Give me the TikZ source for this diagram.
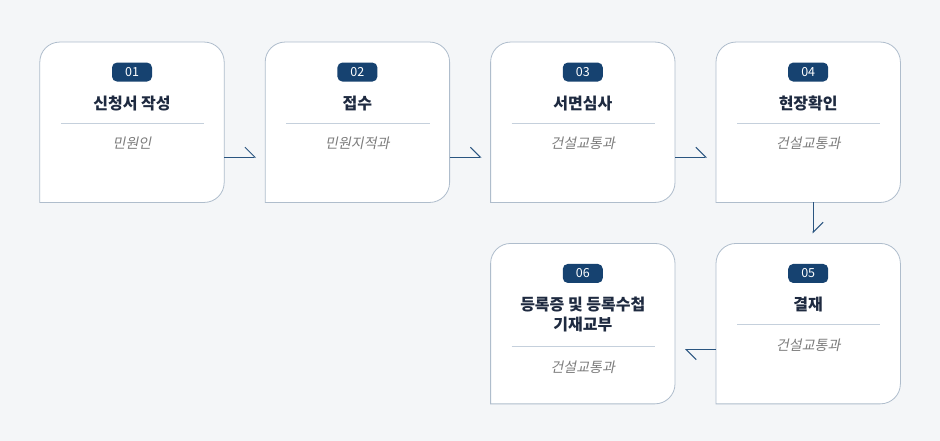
\documentclass[tikz,border=0pt]{standalone}
\usepackage{fontspec}
\usepackage{tikz}
\usetikzlibrary{arrows.meta, positioning}
\newfontfamily\kr{Noto Sans CJK KR}[AutoFakeSlant=0.2]
\definecolor{pagebg}{HTML}{F4F6F8}
\definecolor{cardedge}{HTML}{AFBDCC}
\definecolor{badgeblue}{HTML}{164270}
\definecolor{titleink}{HTML}{1E2A40}
\definecolor{ruleline}{HTML}{C5D0DC}
\definecolor{subink}{HTML}{7C7C7C}
\definecolor{flowblue}{HTML}{2A5580}

% card outline: three rounded corners, square bottom left
\newcommand{\cardframe}[1]{%
  \draw[cardline] (#1.south west) -- ([yshift=-20pt]#1.north west)
    arc[start angle=180, end angle=90, radius=20pt] -- ([xshift=-20pt]#1.north east)
    arc[start angle=90, end angle=0, radius=20pt] -- ([yshift=20pt]#1.south east)
    arc[start angle=0, end angle=-90, radius=20pt] -- cycle;}

\begin{document}
\begin{tikzpicture}[node distance=41pt,
    cardline/.style={draw=cardedge, fill=white, line width=0.8pt},
    rule/.style={draw=ruleline, line width=0.8pt},
    flow/.style={draw=flowblue, line width=1pt,
                 -{Straight Barb[harpoon, length=10pt, width=20pt]}}]
  \tikzstyle{stepcard}=[minimum width=184pt, minimum height=160pt, inner sep=0pt]
  \tikzstyle{badge}=[fill=badgeblue, text=white, rounded corners=5pt,
                     minimum width=40pt, minimum height=19pt, inner sep=0pt,
                     font=\kr\fontsize{12.5}{12.5}\selectfont]
  \tikzstyle{title}=[text=titleink, align=center, inner sep=0pt,
                     font=\kr\bfseries\fontsize{16}{20}\selectfont]
  \tikzstyle{office}=[text=subink, inner sep=0pt,
                      font=\kr\itshape\fontsize{14}{14}\selectfont]

  \fill[pagebg] (0,0) rectangle (940pt,-441pt);
  \useasboundingbox (0,0) rectangle (940pt,-441pt);

  \node[stepcard] (c1) at (132pt,-122.25pt) {};
  \node[stepcard] (c2) [right=of c1] {};
  \node[stepcard] (c3) [right=of c2] {};
  \node[stepcard] (c4) [right=of c3] {};
  \node[stepcard] (c5) [below=of c4] {};
  \node[stepcard] (c6) [left=of c5] {};

  \cardframe{c1} \cardframe{c2} \cardframe{c3}
  \cardframe{c4} \cardframe{c5} \cardframe{c6}

  % step 1
  \node[badge]  (b1) at ([yshift=-30pt]c1.north) {01};
  \node[title]  (t1) at ([yshift=-61pt]c1.north) {신청서 작성};
  \draw[rule] ([xshift=21pt,yshift=-81pt]c1.north west) -- ([xshift=-20pt,yshift=-81pt]c1.north east);
  \node[office] (s1) at ([yshift=-101.5pt]c1.north) {민원인};

  % step 2
  \node[badge]  (b2) at ([yshift=-30pt]c2.north) {02};
  \node[title]  (t2) at ([yshift=-61pt]c2.north) {접수};
  \draw[rule] ([xshift=21pt,yshift=-81pt]c2.north west) -- ([xshift=-20pt,yshift=-81pt]c2.north east);
  \node[office] (s2) at ([yshift=-101.5pt]c2.north) {민원지적과};

  % step 3
  \node[badge]  (b3) at ([yshift=-30pt]c3.north) {03};
  \node[title]  (t3) at ([yshift=-61pt]c3.north) {서면심사};
  \draw[rule] ([xshift=21pt,yshift=-81pt]c3.north west) -- ([xshift=-20pt,yshift=-81pt]c3.north east);
  \node[office] (s3) at ([yshift=-101.5pt]c3.north) {건설교통과};

  % step 4
  \node[badge]  (b4) at ([yshift=-30pt]c4.north) {04};
  \node[title]  (t4) at ([yshift=-61pt]c4.north) {현장확인};
  \draw[rule] ([xshift=21pt,yshift=-81pt]c4.north west) -- ([xshift=-20pt,yshift=-81pt]c4.north east);
  \node[office] (s4) at ([yshift=-101.5pt]c4.north) {건설교통과};

  % step 5
  \node[badge]  (b5) at ([yshift=-30pt]c5.north) {05};
  \node[title]  (t5) at ([yshift=-61pt]c5.north) {결재};
  \draw[rule] ([xshift=21pt,yshift=-81pt]c5.north west) -- ([xshift=-20pt,yshift=-81pt]c5.north east);
  \node[office] (s5) at ([yshift=-101.5pt]c5.north) {건설교통과};

  % step 6
  \node[badge]  (b6) at ([yshift=-30pt]c6.north) {06};
  \node[title]  (t6) at ([yshift=-71pt]c6.north) {등록증 및 등록수첩\\기재교부};
  \draw[rule] ([xshift=21pt,yshift=-103pt]c6.north west) -- ([xshift=-20pt,yshift=-103pt]c6.north east);
  \node[office] (s6) at ([yshift=-124pt]c6.north) {건설교통과};

  % connectors
  \coordinate (e12) at ([xshift=32pt,yshift=-35pt]c1.east);
  \coordinate (e23) at ([xshift=32pt,yshift=-35pt]c2.east);
  \coordinate (e34) at ([xshift=32pt,yshift=-35pt]c3.east);
  \coordinate (e45) at ([xshift=5pt,yshift=-31pt]c4.south);
  \coordinate (e56) at ([xshift=-31pt,yshift=-26pt]c5.west);

  \draw[flow] ([yshift=-35pt]c1.east) -- (e12);
  \draw[flow] ([yshift=-35pt]c2.east) -- (e23);
  \draw[flow] ([yshift=-35pt]c3.east) -- (e34);
  \draw[flow] ([xshift=5pt]c4.south) -- (e45);
  \draw[flow] ([yshift=-26pt]c5.west) -- (e56);
\end{tikzpicture}
\end{document}
